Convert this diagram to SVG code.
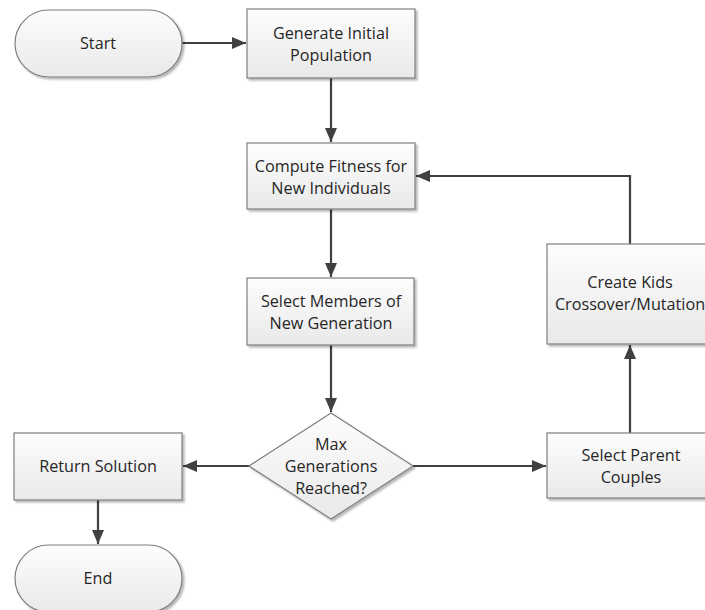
<svg xmlns="http://www.w3.org/2000/svg" width="705" height="610" viewBox="0 0 705 610">
<style>
.box{fill:url(#g);stroke:#7f7f7f;stroke-width:1.2;filter:url(#sh)}
.t{font-family:"Open Sans","Noto Sans",sans-serif;font-size:16.2px;fill:#262626;text-anchor:middle}
.c{fill:none;stroke:#404040;stroke-width:2.2}
</style>
<defs>
<linearGradient id="g" x1="0" y1="0" x2="0" y2="1">
<stop offset="0" stop-color="#fdfdfd"/>
<stop offset="1" stop-color="#e9e9e9"/>
</linearGradient>
<filter id="sh" x="-5%" y="-5%" width="115%" height="120%">
<feGaussianBlur in="SourceAlpha" stdDeviation="1"/>
<feOffset dx="2" dy="2"/>
<feComponentTransfer><feFuncA type="linear" slope="0.3"/></feComponentTransfer>
<feMerge><feMergeNode/><feMergeNode in="SourceGraphic"/></feMerge>
</filter>
<marker id="a" markerWidth="14" markerHeight="12" refX="14" refY="6" orient="auto" markerUnits="userSpaceOnUse">
<path d="M0,0 L14,6 L0,12 Z" fill="#404040"/>
</marker>
</defs>
<g id="connectors">
<path class="c" d="M182,43 H246" marker-end="url(#a)"/>
<path class="c" d="M331,78 V142" marker-end="url(#a)"/>
<path class="c" d="M331,209 V277" marker-end="url(#a)"/>
<path class="c" d="M331,345 V412" marker-end="url(#a)"/>
<path class="c" d="M249,466 H183" marker-end="url(#a)"/>
<path class="c" d="M98,500 V544" marker-end="url(#a)"/>
<path class="c" d="M413,466 H546" marker-end="url(#a)"/>
<path class="c" d="M630,433 V345" marker-end="url(#a)"/>
<path class="c" d="M630,244 V176 H416" marker-end="url(#a)"/>
</g>
<g id="start">
<rect class="box" x="15" y="10" width="167" height="67" rx="33.5"/>
<text class="t" x="98" y="49">Start</text>
</g>
<g id="generate">
<rect class="box" x="247" y="9" width="168" height="69"/>
<text class="t" x="331" y="39">Generate Initial</text>
<text class="t" x="331" y="61">Population</text>
</g>
<g id="compute">
<rect class="box" x="247" y="143" width="168" height="66"/>
<text class="t" x="331" y="172">Compute Fitness for</text>
<text class="t" x="331" y="194">New Individuals</text>
</g>
<g id="select-members">
<rect class="box" x="247" y="278" width="167" height="67"/>
<text class="t" x="331" y="307">Select Members of</text>
<text class="t" x="331" y="329">New Generation</text>
</g>
<g id="decision">
<polygon class="box" points="331,413 413,466 331,519 249,466"/>
<text class="t" x="331" y="450">Max</text>
<text class="t" x="331" y="472">Generations</text>
<text class="t" x="331" y="494">Reached?</text>
</g>
<g id="return">
<rect class="box" x="14" y="433" width="168" height="67"/>
<text class="t" x="98" y="472">Return Solution</text>
</g>
<g id="end">
<rect class="box" x="15" y="545" width="167" height="67" rx="33.5"/>
<text class="t" x="98" y="584">End</text>
</g>
<g id="select-parent">
<rect class="box" x="547" y="433" width="168" height="65"/>
<text class="t" x="631" y="461">Select Parent</text>
<text class="t" x="631" y="483">Couples</text>
</g>
<g id="create-kids">
<rect class="box" x="547" y="244" width="168" height="100"/>
<text class="t" x="630" y="288">Create Kids</text>
<text class="t" x="630" y="310">Crossover/Mutation</text>
</g>
</svg>
